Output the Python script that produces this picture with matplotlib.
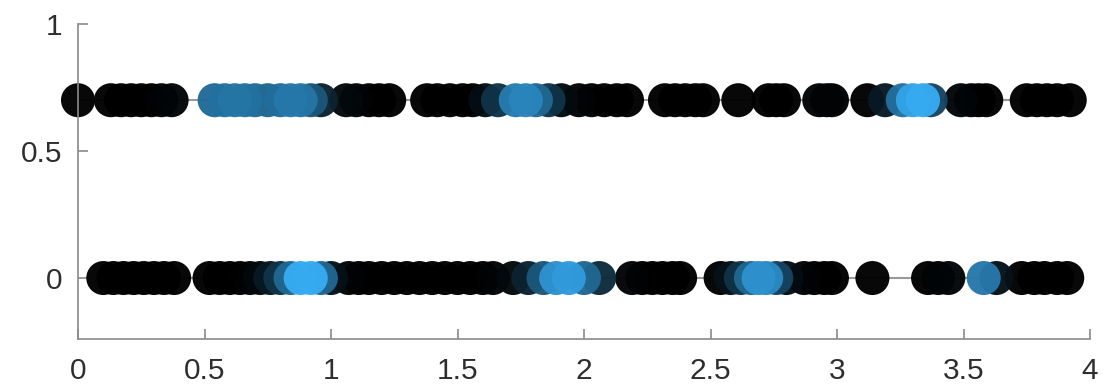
import numpy as np
import matplotlib
matplotlib.use("Agg")
import matplotlib.pyplot as plt
from matplotlib.colors import LinearSegmentedColormap

# ---- data ----
x_top = [0.00, 0.13, 0.17, 0.21, 0.25, 0.29, 0.33, 0.37,
         0.54, 0.58, 0.62, 0.66, 0.70, 0.75, 0.80, 0.84, 0.88, 0.92, 0.96,
         1.06, 1.10, 1.15, 1.19, 1.23,
         1.38, 1.42, 1.47, 1.52, 1.56, 1.61, 1.66, 1.73, 1.77, 1.81, 1.86, 1.91,
         1.98, 2.03, 2.08, 2.13, 2.17,
         2.32, 2.36, 2.40, 2.44, 2.47, 2.61, 2.73, 2.76, 2.79, 2.93, 2.96, 2.98,
         3.12, 3.19, 3.26, 3.30, 3.34, 3.37, 3.49, 3.53, 3.56, 3.59,
         3.75, 3.79, 3.83, 3.87, 3.92]
c_top = [0, 0, 0, 0, 0, 0, 0.02, 0.03,
         0.62, 0.66, 0.68, 0.66, 0.62, 0.6, 0.64, 0.7, 0.68, 0.5, 0.2,
         0.05, 0.02, 0, 0, 0,
         0, 0, 0, 0, 0, 0.08, 0.3, 0.72, 0.78, 0.6, 0.3, 0.06,
         0.02, 0, 0, 0, 0,
         0, 0, 0, 0, 0, 0, 0, 0, 0, 0.02, 0.02, 0,
         0, 0.15, 0.65, 0.95, 1.0, 0.4, 0.03, 0, 0, 0,
         0, 0, 0, 0, 0]

x_bot = [0.10, 0.14, 0.18, 0.22, 0.26, 0.30, 0.34, 0.38,
         0.52, 0.56, 0.60, 0.64, 0.68, 0.72, 0.76, 0.80, 0.84, 0.88, 0.92, 0.96, 1.00,
         1.07, 1.11, 1.15, 1.20, 1.25, 1.30, 1.35, 1.40, 1.45, 1.50, 1.55, 1.60, 1.64,
         1.72, 1.78, 1.84, 1.89, 1.94, 2.00, 2.06,
         2.19, 2.23, 2.27, 2.31, 2.35, 2.38,
         2.54, 2.58, 2.62, 2.66, 2.69, 2.72, 2.76, 2.80,
         2.87, 2.91, 2.95, 2.98, 3.14,
         3.36, 3.40, 3.44, 3.58, 3.63, 3.73, 3.78, 3.82, 3.87, 3.91]
c_bot = [0, 0, 0, 0, 0, 0, 0, 0,
         0, 0, 0, 0, 0.02, 0.05, 0.15, 0.3, 0.6, 1.0, 1.0, 0.6, 0.1,
         0.02, 0, 0, 0, 0, 0, 0, 0, 0, 0, 0, 0, 0.02,
         0.05, 0.2, 0.5, 0.85, 0.9, 0.6, 0.25,
         0.02, 0, 0, 0, 0, 0,
         0, 0.1, 0.3, 0.6, 0.85, 0.8, 0.4, 0.08,
         0.02, 0, 0, 0, 0,
         0, 0.02, 0.03, 0.7, 0.1, 0, 0, 0, 0, 0]

y_top = 0.7
y_bot = 0.0
xticks = [0, 0.5, 1, 1.5, 2, 2.5, 3, 3.5, 4]
xticklabels = ["0", "0.5", "1", "1.5", "2", "2.5", "3", "3.5", "4"]
yticks = [0, 0.5, 1]
yticklabels = ["0", "0.5", "1"]

# ---- plot ----
plt.rcParams['font.family'] = ['Liberation Sans', 'DejaVu Sans']
cmap = LinearSegmentedColormap.from_list("kb", [(0, 0, 0), (0.21, 0.67, 0.95)])

fig = plt.figure(figsize=(11.1, 3.9), dpi=100)
ax = fig.add_axes([78/1110, 1 - 339/390, (1090 - 78)/1110, (339 - 24)/390])

for xs, cs, yv in [(x_top, c_top, y_top), (x_bot, c_bot, y_bot)]:
    xs = np.asarray(xs); cs = np.asarray(cs)
    ax.plot(xs, np.full_like(xs, yv), color='#999999', lw=1.5, zorder=1)
    order = np.argsort(cs, kind='stable')
    ax.scatter(xs[order], np.full(len(xs), yv), c=cs[order], cmap=cmap, vmin=0, vmax=1,
               s=600, alpha=0.97, linewidths=0, zorder=2)

ax.set_xlim(0, 4)
ax.set_ylim(-0.24, 1)
ax.set_xticks(xticks, xticklabels)
ax.set_yticks(yticks, yticklabels)
for s in ['top', 'right']:
    ax.spines[s].set_visible(False)
for s in ['left', 'bottom']:
    ax.spines[s].set_color('#8a8a8a')
    ax.spines[s].set_linewidth(1.2)
ax.tick_params(direction='in', length=7.5, width=1.2, color='#8a8a8a',
               labelsize=21.5, labelcolor='#2e2e2e')
ax.tick_params(axis='y', pad=11)
ax.tick_params(axis='x', pad=13)
for coll in ax.collections:
    coll.set_clip_on(False)

fig.savefig("out.png", dpi=100)
